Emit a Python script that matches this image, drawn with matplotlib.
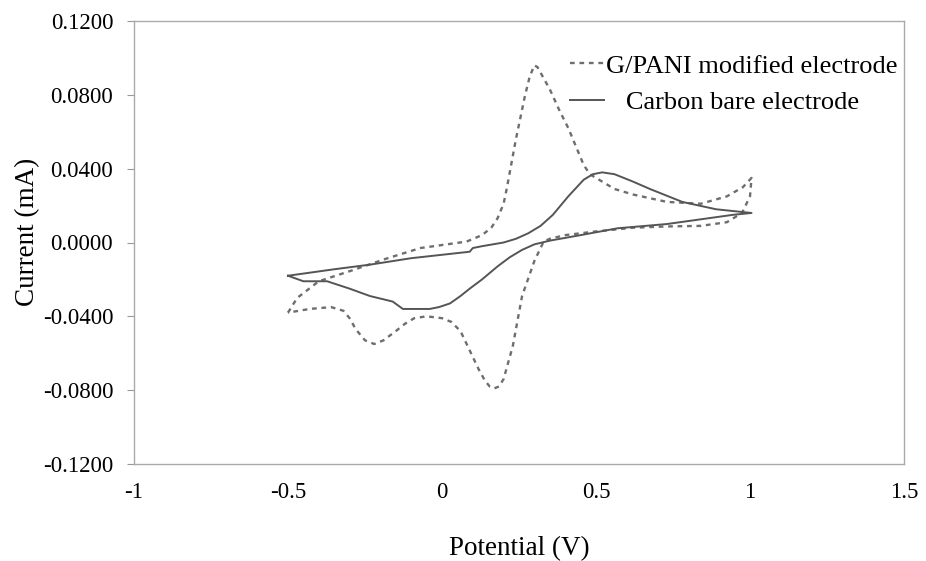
import matplotlib
matplotlib.use("Agg")
import matplotlib.pyplot as plt

#----------------
#DATA
#----------------
# G/PANI modified electrode: anodic sweep then cathodic sweep
gpani_v = [-0.50, -0.47, -0.40, -0.29, -0.18, -0.07, 0.08, 0.13, 0.16, 0.18, 0.20, 0.21, 0.24, 0.27,
           0.285, 0.30, 0.31, 0.32, 0.35, 0.38, 0.41, 0.44, 0.46, 0.48, 0.51, 0.56, 0.62, 0.73,
           0.84, 0.925, 0.977, 1.005,
           1.00, 0.974, 0.925, 0.84, 0.73, 0.62, 0.50, 0.40, 0.35, 0.33, 0.30, 0.26,
           0.23, 0.20, 0.185, 0.17, 0.155, 0.14, 0.12, 0.10, 0.08, 0.06, 0.03, 0.00, -0.05,
           -0.09, -0.12, -0.15, -0.19, -0.22, -0.25, -0.28, -0.30, -0.32, -0.36, -0.43, -0.50]
gpani_i = [-0.038, -0.030, -0.021, -0.015, -0.0087, -0.003, 0.0005, 0.004, 0.008, 0.013, 0.021, 0.029, 0.056, 0.080,
           0.090, 0.096, 0.095, 0.092, 0.083, 0.072, 0.062, 0.050, 0.042, 0.037, 0.034, 0.029, 0.026, 0.022,
           0.021, 0.025, 0.030, 0.035,
           0.025, 0.016, 0.011, 0.009, 0.0087, 0.008, 0.006, 0.004, 0.002, 0.0005, -0.010, -0.029,
           -0.056, -0.074, -0.078, -0.079, -0.078, -0.075, -0.069, -0.062, -0.055, -0.048, -0.043, -0.041, -0.040,
           -0.041, -0.044, -0.048, -0.053, -0.055, -0.053, -0.047, -0.041, -0.037, -0.035, -0.036, -0.038]

# Carbon bare electrode
bare_v = [-0.50, -0.35, -0.234, -0.10, 0.09, 0.10, 0.13, 0.20, 0.24, 0.28, 0.32, 0.36, 0.41, 0.46,
          0.49, 0.52, 0.56, 0.62, 0.675, 0.78, 0.89, 1.005,
          0.945, 0.73, 0.57, 0.45, 0.35, 0.30, 0.26, 0.22, 0.18, 0.13, 0.09, 0.06, 0.026, -0.01, -0.04,
          -0.127, -0.16, -0.234, -0.30, -0.373, -0.45, -0.50]
bare_i = [-0.018, -0.0145, -0.012, -0.0085, -0.005, -0.003, -0.002, 0.000, 0.002, 0.005, 0.009, 0.015, 0.025, 0.034,
          0.037, 0.038, 0.037, 0.033, 0.029, 0.022, 0.018, 0.016,
          0.015, 0.010, 0.0077, 0.004, 0.001, -0.001, -0.004, -0.008, -0.013, -0.020, -0.025, -0.029, -0.033, -0.035, -0.036,
          -0.036, -0.032, -0.029, -0.025, -0.021, -0.021, -0.018]

x_ticks = [-1, -0.5, 0, 0.5, 1, 1.5]
x_tick_labels = ["-1", "-0.5", "0", "0.5", "1", "1.5"]
y_ticks = [-0.12, -0.08, -0.04, 0.0, 0.04, 0.08, 0.12]

#----------------
#PLOT
#----------------
plt.rcParams['font.family'] = ['Liberation Serif', 'DejaVu Serif']

fig = plt.figure(figsize=(9.26, 5.61), dpi=100)
ax = fig.add_axes([134/926, 1-464/561, (904-134)/926, (464-21)/561])

ax.plot(gpani_v, gpani_i, color="#6e6e6e", lw=1.7, linestyle=(0, (2, 2)),
        label="G/PANI modified electrode")
ax.plot(bare_v, bare_i, color="#555555", lw=1.4, label="   Carbon bare electrode")

ax.set_xlim(-1, 1.5)
ax.set_ylim(-0.12, 0.12)
ax.set_xticks(x_ticks)
ax.set_xticklabels(x_tick_labels)
ax.set_yticks(y_ticks)
ax.set_yticklabels(["%.4f" % t for t in y_ticks])
ax.tick_params(axis="y", direction="out", length=5, color="#999999", labelsize=16.5, pad=10)
ax.tick_params(axis="x", length=0, labelsize=16.5, pad=13)
for sp in ax.spines.values():
    sp.set_color("#aaaaaa")
    sp.set_linewidth(1.0)

ax.set_xlabel("Potential (V)", fontsize=19.5, labelpad=24)
ax.set_ylabel("Current (mA)", fontsize=19.5)
ax.yaxis.set_label_coords(-0.122, 0.524)

leg = ax.legend(loc="upper right", frameon=False, fontsize=19, handlelength=1.3,
                handletextpad=0.05, borderpad=0, borderaxespad=0, labelspacing=0.5,
                bbox_to_anchor=(0.991, 0.925))

fig.savefig("out.png", dpi=100)
